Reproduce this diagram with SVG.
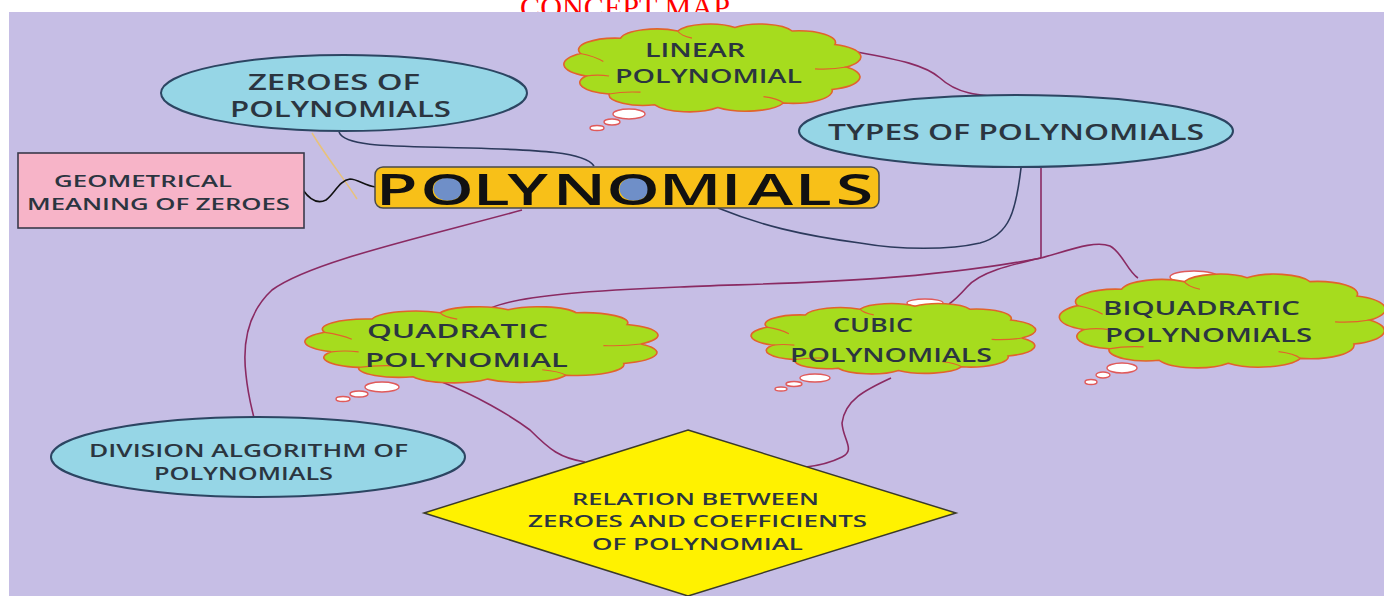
<svg xmlns="http://www.w3.org/2000/svg" width="1384" height="596" viewBox="0 0 1384 596">
<style>
  .t{font-family:"Open Sans","Liberation Sans",sans-serif;fill:#2b3540;font-weight:600;}
  .oval{fill:#96d6e6;stroke:#2c4562;stroke-width:2;}
  .cloud{fill:#a6dc1e;stroke:#e2632c;stroke-width:1.6;}
  .inner{fill:none;stroke:#e2632c;stroke-width:1.2;}
  .bub{fill:#ffffff;stroke:#e05a5a;stroke-width:1.4;}
  .mar{fill:none;stroke:#8a2a62;stroke-width:1.6;}
  .navy{fill:none;stroke:#2c3a5c;stroke-width:1.6;}
</style>
<defs>
  <path id="cloudShape" vector-effect="non-scaling-stroke" d="M6,60 A15,15 0 0 1 4,35 A13,13 0 0 1 18,18 A13,13 0 0 1 38,10 A12,12 0 0 1 58,6 A12,12 0 0 1 78,10 A13,13 0 0 1 93,25 A15,15 0 0 1 97,50 A15,15 0 0 1 92,75 A14,14 0 0 1 75,90 A14,14 0 0 1 52,95 A13,13 0 0 1 30,92 A12,12 0 0 1 14,80 A13,13 0 0 1 6,60 Z"/>
  <path id="cloudInner" vector-effect="non-scaling-stroke" d="M4,35 Q9,38 12,44 M38,10 Q39,15 43,18 M97,50 Q92,53 86,52 M75,90 Q73,85 68,83 M14,80 Q19,77 25,78 M6,60 Q10,58 14,60"/>
</defs>
<rect x="0" y="0" width="1384" height="596" fill="#ffffff"/>
<text x="520" y="17" font-family="Liberation Serif,serif" font-size="30" fill="#ff0000" textLength="210" lengthAdjust="spacingAndGlyphs">CONCEPT MAP</text>
<rect x="9" y="12" width="1375" height="584" fill="#c6bee5"/>

<g id="connectors">
  <path class="navy" d="M339,132 C345,148 400,146 470,148 C540,150 585,152 594,166"/>
  <path fill="none" stroke="#e8c27a" stroke-width="1.5" d="M312,133 C325,155 345,180 357,199"/>
  <path fill="none" stroke="#111111" stroke-width="1.6" d="M303,190 C310,200 318,204 326,200 C334,194 340,180 350,179 C358,179 365,186 376,187"/>
  <path class="mar" d="M857,52 C900,60 925,65 940,78 C955,92 975,97 1017,97"/>
  <path class="navy" d="M1021,168 C1016,210 1010,235 980,243 C950,250 900,250 860,243 C800,235 760,225 718,208"/>
  <path class="mar" d="M1041,168 L1041,258"/>
  <path class="mar" d="M1041,258 C900,285 750,283 680,287 C600,290 520,295 491,308"/>
  <path class="mar" d="M1041,258 C1010,265 980,272 967,287 C958,297 952,302 949,304"/>
  <path class="mar" d="M1041,258 C1070,250 1095,240 1110,246 C1122,252 1128,272 1138,278"/>
  <path class="mar" d="M522,210 C420,238 310,262 272,290 C245,315 243,350 246,375 C248,395 251,405 254,418"/>
  <path class="mar" d="M442,382 C475,395 510,415 530,430 C550,450 560,458 585,462"/>
  <path class="mar" d="M891,378 C865,390 845,400 842,423 C843,440 856,450 842,457 C830,463 815,466 806,467"/>
</g>

<g id="zeroes">
  <ellipse class="oval" cx="344" cy="93" rx="183" ry="38"/>
  <text class="t" x="248" y="90" font-size="21" textLength="172" lengthAdjust="spacingAndGlyphs">ZEROES OF</text>
  <text class="t" x="230" y="117" font-size="21" textLength="221" lengthAdjust="spacingAndGlyphs">POLYNOMIALS</text>
</g>

<g id="geometrical">
  <rect x="18" y="153" width="286" height="75" fill="#f7b4c8" stroke="#3a3a4a" stroke-width="1.6"/>
  <text class="t" x="54" y="187" font-size="17" textLength="178" lengthAdjust="spacingAndGlyphs">GEOMETRICAL</text>
  <text class="t" x="27" y="210" font-size="17" textLength="263" lengthAdjust="spacingAndGlyphs">MEANING OF ZEROES</text>
</g>

<g id="polynomials">
  <rect x="375" y="167" width="504" height="41" rx="8" fill="#f8c018" stroke="#4a4a4a" stroke-width="1.5"/>
  <ellipse cx="448" cy="189" rx="14.5" ry="11.5" fill="#6f8fc8"/>
  <ellipse cx="634" cy="189" rx="14.5" ry="11.5" fill="#6f8fc8"/>
  <text transform="translate(382,205) scale(1.55,1)" x="-4 24.7 58.6 81 110.2 144.7 178.6 218.6 236.1 266.3 292.8" y="0" font-family="Open Sans,Liberation Sans,sans-serif" font-size="44" font-weight="600" fill="#111111">POLYNOMIALS</text>
</g>

<g id="linear">
  <use href="#cloudShape" class="cloud" transform="translate(569,22) scale(2.86,0.90)"/>
  <use href="#cloudInner" class="inner" transform="translate(569,22) scale(2.86,0.90)"/>
  <ellipse class="bub" cx="629" cy="114" rx="16" ry="5"/>
  <ellipse class="bub" cx="612" cy="122" rx="8" ry="3"/>
  <ellipse class="bub" cx="597" cy="128" rx="7" ry="2.5"/>
  <text class="t" x="645" y="57" font-size="19" textLength="100" lengthAdjust="spacingAndGlyphs">LINEAR</text>
  <text class="t" x="615" y="83" font-size="19" textLength="187" lengthAdjust="spacingAndGlyphs">POLYNOMIAL</text>
</g>

<g id="types">
  <ellipse class="oval" cx="1016" cy="131" rx="217" ry="36"/>
  <text class="t" x="828" y="140" font-size="21" textLength="376" lengthAdjust="spacingAndGlyphs">TYPES OF POLYNOMIALS</text>
</g>

<g id="quadratic">
  <use href="#cloudShape" class="cloud" transform="translate(311,305) scale(3.40,0.78)"/>
  <use href="#cloudInner" class="inner" transform="translate(311,305) scale(3.40,0.78)"/>
  <ellipse class="bub" cx="382" cy="387" rx="17" ry="5"/>
  <ellipse class="bub" cx="359" cy="394" rx="9" ry="3"/>
  <ellipse class="bub" cx="343" cy="399" rx="7" ry="2.5"/>
  <text class="t" x="367" y="338" font-size="20" textLength="181" lengthAdjust="spacingAndGlyphs">QUADRATIC</text>
  <text class="t" x="365" y="367" font-size="20" textLength="203" lengthAdjust="spacingAndGlyphs">POLYNOMIAL</text>
</g>

<g id="cubic">
  <ellipse class="bub" cx="925" cy="303" rx="18" ry="4"/>
  <use href="#cloudShape" class="cloud" transform="translate(756,302) scale(2.74,0.72)"/>
  <use href="#cloudInner" class="inner" transform="translate(756,302) scale(2.74,0.72)"/>
  <ellipse class="bub" cx="815" cy="378" rx="15" ry="4"/>
  <ellipse class="bub" cx="794" cy="384" rx="8" ry="2.5"/>
  <ellipse class="bub" cx="781" cy="389" rx="6" ry="2"/>
  <text class="t" x="833" y="332" font-size="19" textLength="80" lengthAdjust="spacingAndGlyphs">CUBIC</text>
  <text class="t" x="790" y="362" font-size="19" textLength="202" lengthAdjust="spacingAndGlyphs">POLYNOMIALS</text>
</g>

<g id="biquadratic">
  <ellipse class="bub" cx="1194" cy="277" rx="24" ry="6"/>
  <use href="#cloudShape" class="cloud" transform="translate(1065,272) scale(3.14,0.96)"/>
  <use href="#cloudInner" class="inner" transform="translate(1065,272) scale(3.14,0.96)"/>
  <ellipse class="bub" cx="1122" cy="368" rx="15" ry="5"/>
  <ellipse class="bub" cx="1103" cy="375" rx="7" ry="3"/>
  <ellipse class="bub" cx="1091" cy="382" rx="6" ry="2.5"/>
  <text class="t" x="1103" y="315" font-size="19" textLength="197" lengthAdjust="spacingAndGlyphs">BIQUADRATIC</text>
  <text class="t" x="1105" y="342" font-size="19" textLength="207" lengthAdjust="spacingAndGlyphs">POLYNOMIALS</text>
</g>

<g id="division">
  <ellipse class="oval" cx="258" cy="457" rx="207" ry="40"/>
  <text class="t" x="89" y="457" font-size="18" textLength="319" lengthAdjust="spacingAndGlyphs">DIVISION ALGORITHM OF</text>
  <text class="t" x="154" y="480" font-size="18" textLength="179" lengthAdjust="spacingAndGlyphs">POLYNOMIALS</text>
</g>

<g id="relation">
  <polygon points="688,430 956,513 688,596 424,513" fill="#fff200" stroke="#3a3a2a" stroke-width="1.5"/>
  <text class="t" x="572" y="505" font-size="17" textLength="247" lengthAdjust="spacingAndGlyphs">RELATION BETWEEN</text>
  <text class="t" x="528" y="527" font-size="17" textLength="339" lengthAdjust="spacingAndGlyphs">ZEROES AND COEFFICIENTS</text>
  <text class="t" x="592" y="550" font-size="17" textLength="211" lengthAdjust="spacingAndGlyphs">OF POLYNOMIAL</text>
</g>
</svg>
